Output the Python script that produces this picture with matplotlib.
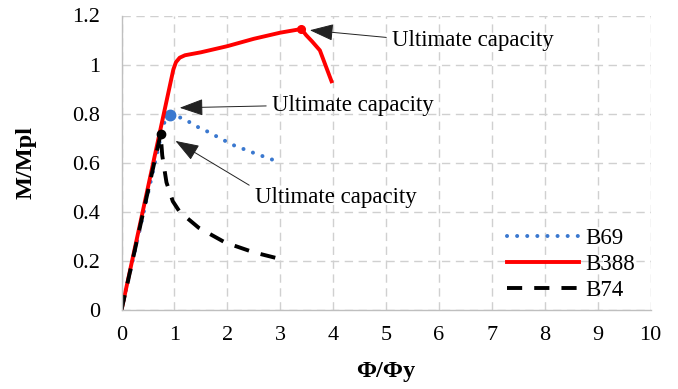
import numpy as np
from matplotlib import pyplot as plt

# moment-curvature curves (normalised)
phi_b69 = [0, 0.8, 0.91, 1.07, 1.25, 1.43, 1.6, 2.1, 2.5, 2.86]
m_b69 = [0, 0.76, 0.794, 0.788, 0.77, 0.747, 0.73, 0.673, 0.64, 0.612]

phi_b388 = [0, 0.5, 0.93, 0.98, 1.03, 1.1, 1.2, 1.5, 2.0, 2.5, 3.0, 3.40, 3.49, 3.6, 3.75, 3.97]
m_b388 = [0, 0.5, 0.93, 0.98, 1.01, 1.028, 1.038, 1.05, 1.075, 1.105, 1.13, 1.145, 1.12, 1.095, 1.058, 0.932]

phi_b74 = [0, 0.74, 0.77, 0.85, 0.97, 1.1, 1.46, 1.96, 2.5, 2.96]
m_b74 = [0, 0.717, 0.63, 0.52, 0.443, 0.40, 0.335, 0.275, 0.235, 0.21]

# peak points marked on each curve
peak_b69 = (0.91, 0.794)
peak_b388 = (3.40, 1.145)
peak_b74 = (0.74, 0.717)

xticks = list(range(0, 11))
yticks = [0, 0.2, 0.4, 0.6, 0.8, 1.0, 1.2]
ylabels = ['0', '0.2', '0.4', '0.6', '0.8', '1', '1.2']

plt.rcParams['font.family'] = ['Liberation Serif', 'DejaVu Serif']

fig = plt.figure(figsize=(6.78, 3.89), dpi=100)
ax = fig.add_axes([121.5/678, 79/389, 529/678, 294.5/389])

ax.plot(phi_b69, m_b69, color='#3a78cf', lw=2.9, dashes=(0.01, 2.5),
        dash_capstyle='round', label='B69')
ax.plot(*peak_b69, 'o', color='#3a78cf', ms=7.5)
ax.plot(phi_b388, m_b388, color='#ff0000', lw=2.8, label='B388')
ax.plot(*peak_b388, 'o', color='#ff0000', ms=5.5)
ax.plot(phi_b74, m_b74, color='black', lw=2.8, dashes=(3.9, 3.1), label='B74')
ax.plot(*peak_b74, 'o', color='black', ms=6)

ax.set_xlim(0, 10)
ax.set_ylim(0, 1.2)
ax.set_xticks(xticks)
ax.set_yticks(yticks)
ax.set_yticklabels(ylabels)
ax.tick_params(length=0, labelsize=16)
ax.tick_params(axis='x', pad=11.5)
ax.tick_params(axis='y', pad=15.5)

ax.grid(True, color='#d0d0d0', lw=1.0, dashes=(6, 4))
ax.set_axisbelow(True)
for s in ['top', 'right']:
    ax.spines[s].set_visible(False)
for s in ['left', 'bottom']:
    ax.spines[s].set_color('#bfbfbf')
    ax.spines[s].set_linewidth(1.0)

ax.set_xlabel('Φ/Φy', fontsize=17.5, fontweight='bold')
ax.set_ylabel('M/Mpl', fontsize=17.5, fontweight='bold')
ax.xaxis.set_label_coords(0.5, -0.2105)
ax.xaxis.label.set_va('center')
ax.yaxis.set_label_coords(-0.1805, 0.5)
ax.yaxis.label.set_va('center')

arrow = dict(arrowstyle='-|>,head_length=0.9,head_width=0.32', color='#222222',
             lw=0.7, shrinkA=2, shrinkB=0)
ax.annotate('Ultimate capacity', xy=(3.56, 1.140), xytext=(5.11, 1.10),
            fontsize=16.5, va='center', ha='left',
            arrowprops=dict(arrow, relpos=(0, 0.6)))
ax.annotate('Ultimate capacity', xy=(1.10, 0.824), xytext=(2.84, 0.832),
            fontsize=16.5, va='center', ha='left',
            arrowprops=dict(arrow, relpos=(0, 0.5)))
ax.annotate('Ultimate capacity', xy=(1.02, 0.689), xytext=(2.52, 0.46),
            fontsize=16.5, va='center', ha='left',
            arrowprops=dict(arrow, relpos=(-0.02, 1.0)))

ax.legend(loc='center left', bbox_to_anchor=(0.729, 0.1545), frameon=False,
          fontsize=16.5, handlelength=3.15, handletextpad=0.27,
          labelspacing=0.2, borderpad=0, borderaxespad=0)

plt.savefig('out.png', dpi=100)
